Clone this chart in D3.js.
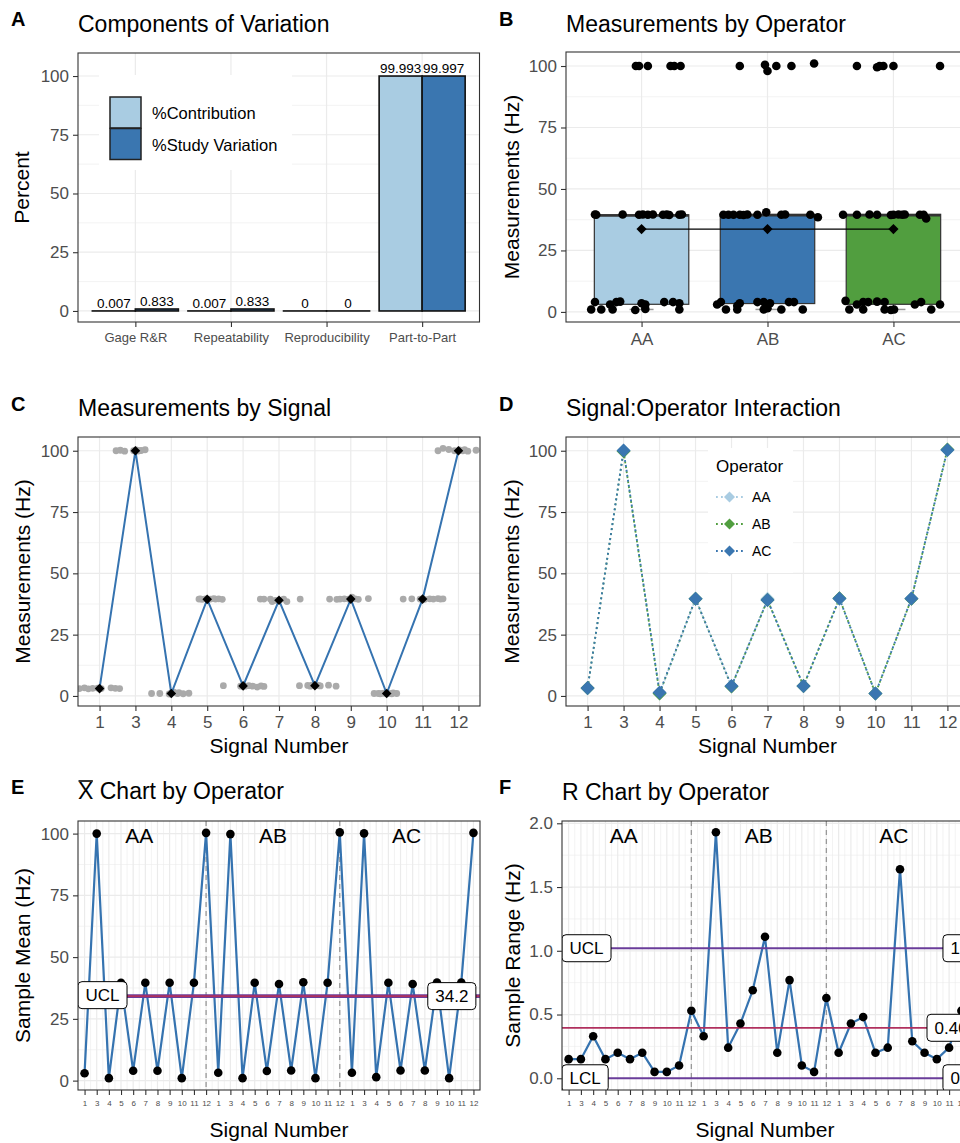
<!DOCTYPE html>
<html><head><meta charset="utf-8">
<script src="https://cdn.jsdelivr.net/npm/d3@7"></script>
<style>
body{margin:0;background:#fff;}
svg{display:block;background:#fff;}
</style></head><body>
<svg id="chart" width="960" height="1143"></svg>
<script>
// ---------------- DATA ----------------
const componentCategories = ["Gage R&R","Repeatability","Reproducibility","Part-to-Part"];
const componentSeries = ["%Contribution","%Study Variation"];
const contributionValues = [0.007,0.007,0,99.993];
const studyVariationValues = [0.833,0.833,0,99.997];
const contributionLabels = ["0.007","0.007","0","99.993"];
const studyVariationLabels = ["0.833","0.833","0","99.997"];

const operators = ["AA","AB","AC"];
const signalLabels = ["1","3","4","5","6","7","8","9","10","11","12"];

// panel B: individual measurements [value, jitter (category units)]
const measAA = [[100,-0.045],[100,-0.02],[100,0.05],[100,0.23],[100,0.26],[100,0.31],
 [39.6,-0.37],[39.5,-0.36],[39.6,-0.15],[39.5,-0.02],[39.6,0.01],[39.5,0.05],[39.6,0.09],[39.5,0.17],[39.6,0.2],[39.4,0.22],[39.5,0.3],[39.6,0.32],
 [4.0,-0.37],[3.0,-0.25],[4.0,-0.2],[4.2,-0.17],[3.0,0.03],[3.5,0.0],[4.0,0.18],[4.0,0.25],[3.5,0.3],
 [1.0,-0.4],[1.0,-0.32],[1.0,-0.23],[0.8,-0.05],[1.2,0.03],[1.0,0.3]];
const measAB = [[100,-0.22],[100.5,-0.02],[98,0.0],[100,0.07],[100,0.19],[101,0.37],
 [39.5,-0.35],[39.5,-0.31],[39.5,-0.27],[39.5,-0.22],[39.4,-0.19],[39.6,-0.16],[39.5,-0.08],[40.5,-0.01],[39.5,0.11],[39.6,0.14],[39.5,0.34],[38.5,0.4],
 [3.0,-0.4],[4.0,-0.37],[3.5,-0.22],[4.0,-0.08],[4.0,-0.03],[3.5,0.02],[4.0,0.17],[4.0,0.21],[2.5,-0.24],
 [1.0,-0.33],[1.0,-0.24],[1.0,-0.03],[1.0,0.11],[1.0,0.28],[1.5,0.0]];
const measAC = [[100,-0.29],[99.5,-0.13],[100,-0.11],[100,-0.08],[100,0.0],[100,0.37],
 [39.5,-0.4],[39.5,-0.29],[39.6,-0.19],[39.5,-0.13],[39.5,0.0],[39.6,0.04],[39.5,0.07],[39.6,0.09],[39.5,0.21],[39.5,0.24],[38.0,0.26],[39.4,-0.02],
 [4.5,-0.38],[3.0,-0.29],[4.0,-0.2],[4.2,-0.13],[4.0,-0.07],[3.0,0.17],[4.0,0.22],[3.0,0.37],[4.0,-0.24],
 [1.0,-0.35],[1.0,-0.24],[1.0,-0.07],[0.8,-0.02],[1.0,0.005],[1.0,0.3]];
const boxLower = [1.0,1.0,1.0];
const boxQ1 = [3.1,3.4,3.1];
const boxMedian = [39.2,39.3,39.3];
const boxQ3 = [39.5,39.7,39.7];
const boxUpper = [39.7,40.5,39.7];
const operatorMeans = [33.7,33.7,33.7];

// panel C: measurements per signal (values and jitter), and signal means
const signalPointValues = [
 [3.0,3.3,2.9,3.1,3.2,3.0,3.3,3.1,3.0],
 [100,100.2,99.8,100,100.3,99.9,100,100.1,100.4],
 [1.0,1.0,0.8,1.2,1.5,1.0,1.3,0.9,1.1],
 [39.5,39.6,39.4,39.6,39.5,39.7,39.5,39.6,39.4],
 [4.2,4.0,4.1,4.0,4.2,4.0,3.6,4.1,3.9],
 [39.5,39.5,39.5,38.5,39.0,39.0,39.5,38.5,39.5],
 [4.2,4.3,4.0,4.4,4.2,4.3,4.1,4.4,4.0],
 [39.5,39.4,39.5,39.6,39.5,40.3,39.6,39.4,39.7],
 [1.0,1.0,0.9,1.1,1.0,1.0,0.9,1.2,1.0],
 [39.5,39.6,39.5,39.4,39.6,39.5,39.7,39.5,39.6],
 [100,101,100.5,100,100.3,100,100.4,99.8,100.2]];
const signalPointJitter = [
 [-0.56,-0.42,-0.31,-0.19,-0.05,0.05,0.32,0.44,0.56],
 [-0.54,-0.42,-0.3,-0.05,0.02,0.06,0.1,0.16,0.27],
 [-0.55,-0.32,-0.06,0,0.07,0.17,0.21,0.33,0.49],
 [-0.23,-0.19,-0.14,-0.05,0.09,0.18,0.23,0.32,0.42],
 [-0.55,-0.07,0,0.06,0.16,0.27,0.39,0.5,0.58],
 [-0.52,-0.42,-0.24,-0.19,-0.1,0,0.13,0.22,0.59],
 [-0.43,-0.2,-0.13,-0.08,0.01,0.1,0.15,0.38,0.59],
 [-0.59,-0.39,-0.3,-0.18,-0.06,0.03,0.12,0.21,0.49],
 [-0.35,-0.23,-0.18,-0.09,0,0.05,0.14,0.18,0.28],
 [-0.54,-0.3,-0.07,0.06,0.2,0.3,0.43,0.5,0.57],
 [-0.57,-0.43,-0.27,-0.11,0.03,0.12,0.17,0.26,0.49]];
const signalMeans = [3.0,100,1.0,39.4,4.1,39.0,4.2,39.5,1.0,39.5,100];

// panels D/E: operator means per signal
const meansAA = [3.0,100,1.0,39.6,4.0,39.6,4.0,39.6,1.0,39.6,100.3];
const meansAB = [3.2,99.8,1.0,39.6,3.9,39.1,4.1,39.8,1.0,39.6,100.5];
const meansAC = [3.2,100.1,1.4,39.6,4.1,39.1,4.1,39.7,1.0,39.7,100.3];
// panel F: ranges per signal
const rangesAA = [0.15,0.15,0.33,0.15,0.2,0.15,0.2,0.05,0.05,0.1,0.53];
const rangesAB = [0.33,1.93,0.24,0.43,0.69,1.11,0.2,0.77,0.1,0.05,0.63];
const rangesAC = [0.2,0.43,0.48,0.2,0.24,1.64,0.29,0.2,0.15,0.24,0.53];

// control limits
const xbarLimits = {UCL:34.6, CL:34.2, LCL:33.8};
const xbarLabels = {CL:"34.2"};
const rLimits = {UCL:1.02, CL:0.396, LCL:0};
const rLabels = {UCL:"1.02", LCL:"0", CL:"0.40"};

// tick values
const percentTicks = [0,25,50,75,100];
const percentMinor = [12.5,37.5,62.5,87.5];
const rangeTicks = [0,0.5,1.0,1.5,2.0];
const rangeMinor = [0.25,0.75,1.25,1.75];

// ---------------- STYLE ----------------
const FONT = '"Liberation Sans", Arial, Helvetica, sans-serif';
const C = {light:"#A9CCE2", dark:"#3A76B0", green:"#519E3F", line:"#3573B0",
  purple:"#6A3D9A", crimson:"#B0305E", grid:"#EBEBEB", border:"#333333", tickText:"#4D4D4D"};
const opFillB = [C.light, C.dark, C.green];
const opColD = [C.light, C.green, C.dark];

const svg = d3.select("#chart").attr("font-family", FONT);
const defs = svg.append("defs");
let clipN = 0;

function txt(parent, x, y, s, o = {}) {
  const t = parent.append("text").attr("x", x).attr("y", y).text(s)
    .attr("font-size", o.size || 17).attr("fill", o.fill || "#000")
    .attr("text-anchor", o.anchor || "start").attr("font-family", FONT);
  if (o.weight) t.attr("font-weight", o.weight);
  if (o.rotate) t.attr("transform", `rotate(-90,${x},${y})`);
  if (o.dy) t.attr("dy", o.dy);
  return t;
}

function panel(b, y, yMajor, yMinor, xMajor, xMinor) {
  const g = svg.append("g");
  g.append("rect").attr("x", b.x0).attr("y", b.y0).attr("width", b.x1 - b.x0).attr("height", b.y1 - b.y0).attr("fill", "#fff");
  const gr = g.append("g").attr("stroke", C.grid);
  yMinor.forEach(v => gr.append("line").attr("x1", b.x0).attr("x2", b.x1).attr("y1", y(v)).attr("y2", y(v)).attr("stroke-width", 0.6));
  xMinor.forEach(p => gr.append("line").attr("x1", p).attr("x2", p).attr("y1", b.y0).attr("y2", b.y1).attr("stroke-width", 0.6));
  yMajor.forEach(v => gr.append("line").attr("x1", b.x0).attr("x2", b.x1).attr("y1", y(v)).attr("y2", y(v)).attr("stroke-width", 1.2));
  xMajor.forEach(p => gr.append("line").attr("x1", p).attr("x2", p).attr("y1", b.y0).attr("y2", b.y1).attr("stroke-width", 1.2));
  const id = "clip" + (clipN++);
  defs.append("clipPath").attr("id", id).append("rect").attr("x", b.x0).attr("y", b.y0).attr("width", b.x1 - b.x0).attr("height", b.y1 - b.y0);
  const data = g.append("g").attr("clip-path", `url(#${id})`);
  return {g, data, border() {
    g.append("rect").attr("x", b.x0).attr("y", b.y0).attr("width", b.x1 - b.x0).attr("height", b.y1 - b.y0)
      .attr("fill", "none").attr("stroke", C.border).attr("stroke-width", 1.1);
  }};
}

function styleAxis(ax, size) {
  ax.attr("font-family", FONT).attr("font-size", size);
  ax.select(".domain").remove();
  ax.selectAll(".tick line").attr("stroke", C.border).attr("stroke-width", 1.1);
  ax.selectAll(".tick text").attr("fill", C.tickText);
}
function yAxis(b, y, ticks, fmt) {
  const ax = svg.append("g").attr("transform", `translate(${b.x0},0)`)
    .call(d3.axisLeft(y).tickValues(ticks).tickSize(5).tickPadding(4).tickFormat(fmt));
  styleAxis(ax, 17);
}
function xAxis(b, x, size, pad, ticks, fmt) {
  const a = d3.axisBottom(x).tickSize(5).tickPadding(pad);
  if (ticks) a.tickValues(ticks);
  if (fmt) a.tickFormat(fmt);
  const ax = svg.append("g").attr("transform", `translate(0,${b.y1})`).call(a);
  styleAxis(ax, size);
}
function header(letter, title, lx, tx, ly, ty) {
  txt(svg, lx, ly, letter, {size: 20, weight: "bold"});
  if (title) txt(svg, tx, ty, title, {size: 23});
}
function diamond(sel, size) {
  return sel.attr("d", d3.symbol(d3.symbolSquare, size)());
}
const fmtInt = d3.format("d");

// ---------------- PANEL A ----------------
{
  const b = {x0: 78, x1: 479.5, y0: 53, y1: 322};
  const y = d3.scaleLinear().domain([-4.7, 109.8]).range([b.y1, b.y0]);
  const x = d3.scalePoint().domain(componentCategories).range([b.x0, b.x1]).padding(0.6);
  const p = panel(b, y, percentTicks, percentMinor, componentCategories.map(x), []);
  const bw = x.step() * 0.9 / 2;
  const series = [contributionValues, studyVariationValues];
  const labels = [contributionLabels, studyVariationLabels];
  const fills = [C.light, C.dark];
  // legend background
  p.data.append("rect").attr("x", 99).attr("y", 75).attr("width", 193).attr("height", 95).attr("fill", "#fff");
  series.forEach((vals, s) => {
    componentCategories.forEach((cat, i) => {
      const x0 = x(cat) - bw + s * bw;
      const yt = y(vals[i]), y0 = y(0);
      p.data.append("rect").attr("x", x0).attr("y", Math.min(yt, y0)).attr("width", bw)
        .attr("height", Math.max(Math.abs(y0 - yt), 0.01)).attr("fill", fills[s])
        .attr("stroke", "#111").attr("stroke-width", 1.6);
      txt(p.data, x0 + bw / 2, yt - 3, labels[s][i], {size: 13.5, anchor: "middle"});
    });
  });
  // legend
  const lg = svg.append("g");
  componentSeries.forEach((s, i) => {
    lg.append("rect").attr("x", 110).attr("y", 97 + i * 31.5).attr("width", 31).attr("height", 31)
      .attr("fill", fills[i]).attr("stroke", "#222").attr("stroke-width", 1.5);
    txt(lg, 152, 119 + i * 32, s, {size: 16.5});
  });
  p.border();
  yAxis(b, y, percentTicks, fmtInt);
  xAxis(b, x, 13, 6);
  txt(svg, 29, (b.y0 + b.y1) / 2, "Percent", {size: 21, anchor: "middle", rotate: true});
  header("A", "Components of Variation", 11, 78, 26, 32);
}

// ---------------- PANEL B ----------------
{
  const b = {x0: 566, x1: 969, y0: 52, y1: 322};
  const y = d3.scaleLinear().domain([-4.1, 105.7]).range([b.y1, b.y0]);
  const x = d3.scalePoint().domain(operators).range([b.x0, b.x1]).padding(0.6);
  const p = panel(b, y, percentTicks, percentMinor, operators.map(x), []);
  const hw = x.step() * 0.75 / 2;
  operators.forEach((op, i) => {
    const cx = x(op);
    p.data.append("line").attr("x1", cx).attr("x2", cx).attr("y1", y(boxQ1[i])).attr("y2", y(boxLower[i])).attr("stroke", "#333").attr("stroke-width", 1.1);
    p.data.append("line").attr("x1", cx).attr("x2", cx).attr("y1", y(boxQ3[i])).attr("y2", y(boxUpper[i])).attr("stroke", "#333").attr("stroke-width", 1.1);
    p.data.append("line").attr("x1", cx - 12).attr("x2", cx + 12).attr("y1", y(boxLower[i])).attr("y2", y(boxLower[i])).attr("stroke", "#999").attr("stroke-width", 1.5);
    p.data.append("rect").attr("x", cx - hw).attr("y", y(boxQ3[i])).attr("width", 2 * hw)
      .attr("height", y(boxQ1[i]) - y(boxQ3[i])).attr("fill", opFillB[i]).attr("stroke", "#333").attr("stroke-width", 1.2);
    p.data.append("line").attr("x1", cx - hw).attr("x2", cx + hw).attr("y1", y(boxMedian[i])).attr("y2", y(boxMedian[i])).attr("stroke", "#333").attr("stroke-width", 2.4);
  });
  [measAA, measAB, measAC].forEach((arr, i) => {
    arr.forEach(d => p.data.append("circle").attr("cx", x(operators[i]) + d[1] * x.step()).attr("cy", y(d[0])).attr("r", 4.3).attr("fill", "#000"));
  });
  p.data.append("path").attr("d", d3.line()(operators.map((op, i) => [x(op), y(operatorMeans[i])])))
    .attr("fill", "none").attr("stroke", "#000").attr("stroke-width", 1.3);
  operators.forEach((op, i) => diamond(p.data.append("path"), 52).attr("transform", `translate(${x(op)},${y(operatorMeans[i])}) rotate(45)`).attr("fill", "#000"));
  p.border();
  yAxis(b, y, percentTicks, fmtInt);
  xAxis(b, x, 17, 6);
  txt(svg, 519, (b.y0 + b.y1) / 2, "Measurements (Hz)", {size: 21, anchor: "middle", rotate: true});
  header("B", "Measurements by Operator", 499, 566, 26, 32);
}

// ---------------- PANEL C ----------------
{
  const b = {x0: 78, x1: 480, y0: 437, y1: 706};
  const y = d3.scaleLinear().domain([-4.1, 105.6]).range([b.y1, b.y0]);
  const x = d3.scalePoint().domain(signalLabels).range([b.x0, b.x1]).padding(0.6);
  const p = panel(b, y, percentTicks, percentMinor, signalLabels.map(x), []);
  signalLabels.forEach((s, i) => {
    signalPointValues[i].forEach((v, k) => p.data.append("circle")
      .attr("cx", x(s) + signalPointJitter[i][k] * x.step()).attr("cy", y(v)).attr("r", 3.4).attr("fill", "#AAAAAA"));
  });
  p.data.append("path").attr("d", d3.line()(signalLabels.map((s, i) => [x(s), y(signalMeans[i])])))
    .attr("fill", "none").attr("stroke", C.line).attr("stroke-width", 2);
  signalLabels.forEach((s, i) => diamond(p.data.append("path"), 46).attr("transform", `translate(${x(s)},${y(signalMeans[i])}) rotate(45)`).attr("fill", "#000"));
  p.border();
  yAxis(b, y, percentTicks, fmtInt);
  xAxis(b, x, 17, 5);
  txt(svg, 30, (b.y0 + b.y1) / 2, "Measurements (Hz)", {size: 21, anchor: "middle", rotate: true});
  txt(svg, (b.x0 + b.x1) / 2, 753, "Signal Number", {size: 21, anchor: "middle"});
  header("C", "Measurements by Signal", 11, 78, 411, 416);
}

// ---------------- PANEL D ----------------
{
  const b = {x0: 566, x1: 969, y0: 437, y1: 706};
  const y = d3.scaleLinear().domain([-4.1, 105.6]).range([b.y1, b.y0]);
  const x = d3.scalePoint().domain(signalLabels).range([b.x0, b.x1]).padding(0.6);
  const p = panel(b, y, percentTicks, percentMinor, signalLabels.map(x), []);
  [meansAA, meansAB, meansAC].forEach((arr, o) => {
    p.data.append("path").attr("d", d3.line()(signalLabels.map((s, i) => [x(s), y(arr[i])])))
      .attr("fill", "none").attr("stroke", opColD[o]).attr("stroke-width", 1.8).attr("stroke-dasharray", "1.8,3.2");
  });
  [meansAA, meansAB, meansAC].forEach((arr, o) => {
    signalLabels.forEach((s, i) => diamond(p.data.append("path"), 98).attr("transform", `translate(${x(s)},${y(arr[i])}) rotate(45)`).attr("fill", opColD[o]));
  });
  // legend
  const lg = svg.append("g");
  lg.append("rect").attr("x", 708).attr("y", 448).attr("width", 85).attr("height", 125).attr("fill", "#fff");
  txt(lg, 716, 472, "Operator", {size: 17});
  operators.forEach((op, i) => {
    const ly = 497 + i * 27;
    lg.append("line").attr("x1", 716).attr("x2", 743).attr("y1", ly).attr("y2", ly)
      .attr("stroke", opColD[i]).attr("stroke-width", 1.8).attr("stroke-dasharray", "1.8,3.2");
    diamond(lg.append("path"), 60).attr("transform", `translate(729.5,${ly}) rotate(45)`).attr("fill", opColD[i]);
    txt(lg, 752, ly + 5, op, {size: 14});
  });
  p.border();
  yAxis(b, y, percentTicks, fmtInt);
  xAxis(b, x, 17, 5);
  txt(svg, 519, (b.y0 + b.y1) / 2, "Measurements (Hz)", {size: 21, anchor: "middle", rotate: true});
  txt(svg, 767.5, 753, "Signal Number", {size: 21, anchor: "middle"});
  header("D", "Signal:Operator Interaction", 499, 566, 411, 416);
}

// ---------------- PANELS E & F (control charts) ----------------
function controlChart(b, y, yMajor, yMinor, yFmt, values, limits, leftLabels, rightLabels, rightPos, yTitle, yTitleX) {
  const n = values.length;
  const x = d3.scaleLinear().domain([0.46, n + 0.54]).range([b.x0, b.x1]);
  const idx = d3.range(1, n + 1);
  const p = panel(b, y, yMajor, yMinor, idx.map(x), d3.range(1.5, n, 1).map(x));
  const per = signalLabels.length;
  [per, 2 * per].forEach(i => p.data.append("line").attr("x1", x(i)).attr("x2", x(i)).attr("y1", b.y0).attr("y2", b.y1)
    .attr("stroke", "#999").attr("stroke-width", 1.3).attr("stroke-dasharray", "5,4"));
  operators.forEach((op, k) => txt(p.data, x(k * per + 5.5), b.y0 + 22, op, {size: 21, anchor: "middle"}));
  p.data.append("path").attr("d", d3.line()(values.map((v, i) => [x(i + 1), y(v)])))
    .attr("fill", "none").attr("stroke", C.line).attr("stroke-width", 2.2);
  [["LCL", C.purple], ["UCL", C.purple], ["CL", C.crimson]].forEach(([k, c]) =>
    p.data.append("line").attr("x1", b.x0).attr("x2", b.x1).attr("y1", y(limits[k])).attr("y2", y(limits[k]))
      .attr("stroke", c).attr("stroke-width", 1.8));
  values.forEach((v, i) => p.data.append("circle").attr("cx", x(i + 1)).attr("cy", y(v)).attr("r", 4.3).attr("fill", "#000"));
  function label(str, px, py, anchor) {
    const g = p.data.append("g");
    const t = txt(g, 0, py, str, {size: 17, dy: "0.35em"});
    const w = t.node().getComputedTextLength();
    const bw = w + 15, bh = 27;
    const left = anchor === "end" ? px - bw : px;
    g.insert("rect", "text").attr("x", left).attr("y", py - bh / 2).attr("width", bw).attr("height", bh)
      .attr("rx", 4).attr("fill", "#fff").attr("stroke", "#000").attr("stroke-width", 1);
    t.attr("x", left + 7.5);
  }
  leftLabels.forEach(k => label(k, x(0.46), y(limits[k]), "start"));
  Object.keys(rightLabels).forEach(k => label(rightLabels[k], x(rightPos[k][0]), y(limits[k]), rightPos[k][1]));
  p.border();
  yAxis(b, y, yMajor, yFmt);
  xAxis(b, x, 8, 5, idx, i => signalLabels[(i - 1) % per]);
  txt(svg, yTitleX, (b.y0 + b.y1) / 2, yTitle, {size: 21, anchor: "middle", rotate: true});
  txt(svg, (b.x0 + b.x1) / 2 > 700 ? 765 : 279, 1137, "Signal Number", {size: 21, anchor: "middle"});
}

{
  const b = {x0: 78, x1: 480, y0: 821, y1: 1090};
  const y = d3.scaleLinear().domain([-3.8, 105.1]).range([b.y1, b.y0]);
  controlChart(b, y, percentTicks, percentMinor, fmtInt, meansAA.concat(meansAB, meansAC),
    xbarLimits, ["UCL"], xbarLabels, {CL: [33.2, "end"]},
    "Sample Mean (Hz)", 30);
  // title with overline X
  txt(svg, 11, 794, "E", {size: 20, weight: "bold"});
  const tX = txt(svg, 78, 799, "X", {size: 23});
  const wX = tX.node().getComputedTextLength();
  svg.append("line").attr("x1", 78.5).attr("x2", 78 + wX - 0.5).attr("y1", 781).attr("y2", 781).attr("stroke", "#000").attr("stroke-width", 1.6);
  txt(svg, 78 + wX + 6.4, 799, "Chart by Operator", {size: 23});
}
{
  const b = {x0: 562, x1: 968, y0: 821, y1: 1090};
  const y = d3.scaleLinear().domain([-0.092, 2.018]).range([b.y1, b.y0]);
  controlChart(b, y, rangeTicks, rangeMinor, d3.format(".1f"), rangesAA.concat(rangesAB, rangesAC),
    rLimits, ["UCL", "LCL"], rLabels, {UCL: [31.5, "start"], LCL: [31.5, "start"], CL: [30.2, "start"]},
    "Sample Range (Hz)", 520);
  header("F", "R Chart by Operator", 499, 562, 794, 800);
}
</script>
</body></html>
